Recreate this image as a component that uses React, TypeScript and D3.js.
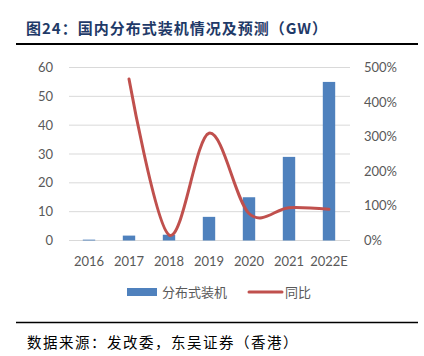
import React from "react";
import * as d3 from "d3";

const years = ["2016", "2017", "2018", "2019", "2020", "2021", "2022E"];
const capacity = [0.3, 1.7, 2.0, 8.2, 15.0, 29.0, 55.0];
const growthYears = ["2017", "2018", "2019", "2020", "2021", "2022E"];
const growth = [4.67, 0.16, 3.1, 0.78, 0.95, 0.9];
const leftTicks = [0, 10, 20, 30, 40, 50, 60];
const rightTicks = [0, 1, 2, 3, 4, 5];

const W = 424;
const H = 356;
const cjk = "'Noto Sans CJK SC', sans-serif";
const latin = "Lato, 'Noto Sans CJK SC', sans-serif";

export default function App() {
  const x = d3.scaleBand<string>().domain(years).range([69, 349]).paddingInner(0.69).paddingOuter(0.345);
  const yL = d3.scaleLinear().domain([0, 60]).range([240.5, 67.5]);
  const yR = d3.scaleLinear().domain([0, 5]).range([240.5, 67.5]);
  const cx = (c: string) => (x(c) ?? 0) + x.bandwidth() / 2;
  const pts: [number, number][] = growthYears.map((c, i) => [cx(c), yR(growth[i])]);
  const line = d3.line().curve(d3.curveCatmullRom.alpha(0))(pts) ?? "";

  return (
    <svg width={W} height={H} style={{ position: "absolute", left: 0, top: 0, background: "#fff" }}>
      <text x={26} y={34} fontFamily={cjk} fontWeight="bold" fontSize={15} fill="#1F3A68" letterSpacing={1}>
        图24：国内分布式装机情况及预测（GW）
      </text>
      <line x1={16} x2={418} y1={44} y2={44} stroke="#000" strokeWidth={2} />

      {leftTicks.map((t) => (
        <line key={"g" + t} x1={69} x2={350} y1={yL(t)} y2={yL(t)} stroke="#D9D9D9" strokeWidth={1} />
      ))}
      {leftTicks.map((t) => (
        <text key={"l" + t} x={53} y={yL(t)} dy="0.35em" textAnchor="end" fontFamily={latin} fontSize={13} fill="#595959">
          {t}
        </text>
      ))}
      {rightTicks.map((t) => (
        <text key={"r" + t} x={364} y={yR(t)} dy="0.35em" textAnchor="start" fontFamily={latin} fontSize={13} fill="#595959">
          {d3.format(".0%")(t)}
        </text>
      ))}
      {years.map((c) => (
        <text key={"x" + c} x={cx(c)} y={261} dy="0.35em" textAnchor="middle" fontFamily={latin} fontSize={13} fill="#595959">
          {c}
        </text>
      ))}

      {years.map((c, i) => (
        <rect key={"b" + c} x={x(c)} y={yL(capacity[i])} width={x.bandwidth()} height={yL(0) - yL(capacity[i])} fill="#4F81BD" />
      ))}
      <path d={line} fill="none" stroke="#C0504D" strokeWidth={3} strokeLinecap="round" />

      <rect x={127} y={288} width={30} height={8} fill="#4F81BD" />
      <text x={162} y={292} dy="0.35em" fontFamily={cjk} fontSize={13} fill="#595959">
        分布式装机
      </text>
      <line x1={249} x2={282} y1={292} y2={292} stroke="#C0504D" strokeWidth={3} strokeLinecap="round" />
      <text x={285} y={292} dy="0.35em" fontFamily={cjk} fontSize={13} fill="#595959">
        同比
      </text>

      <line x1={16} x2={418} y1={322.5} y2={322.5} stroke="#000" strokeWidth={1.5} />
      <text x={27} y={343} dy="0.35em" fontFamily={cjk} fontSize={14.5} fill="#000" letterSpacing={1.5}>
        数据来源：发改委，东吴证券（香港）
      </text>
    </svg>
  );
}
